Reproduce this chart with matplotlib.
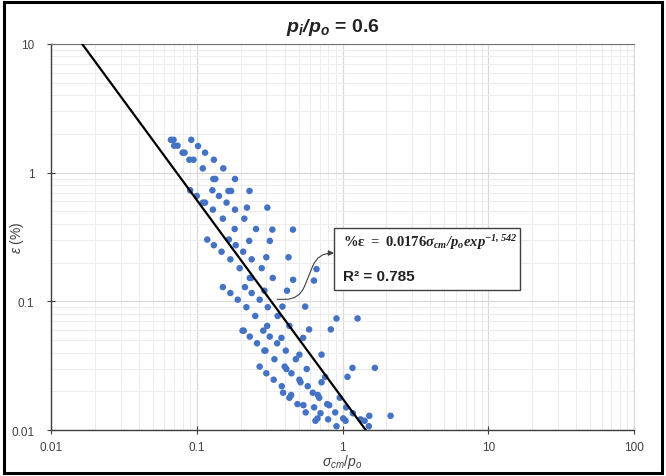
import numpy as np
import matplotlib.pyplot as plt
from matplotlib.patches import Rectangle

# sigma_cm / p_o values
x_vals = [0.0665, 0.0693, 0.0917, 0.070, 0.0738, 0.102, 0.080, 0.0825, 0.114, 0.089,
          0.095, 0.131, 0.110, 0.152, 0.130, 0.134, 0.183, 0.090, 0.128, 0.165,
          0.172, 0.230, 0.100, 0.142, 0.110, 0.114, 0.160, 0.129, 0.183, 0.221,
          0.305, 0.151, 0.212, 0.182, 0.255, 0.330, 0.457, 0.118, 0.166, 0.229,
          0.317, 0.131, 0.185, 0.148, 0.208, 0.170, 0.238, 0.300, 0.426, 0.197,
          0.279, 0.663, 0.231, 0.236, 0.332, 0.458, 0.637, 0.151, 0.214, 0.291,
          0.416, 0.170, 0.238, 0.191, 0.270, 0.387, 0.554, 0.219, 0.307, 0.252,
          0.359, 0.909, 1.268, 0.206, 0.210, 0.286, 0.304, 0.432, 0.590, 0.831,
          0.231, 0.317, 0.381, 0.537, 0.259, 0.356, 0.291, 0.296, 0.408, 0.506,
          0.718, 0.341, 0.478, 0.270, 0.401, 0.412, 0.568, 1.171, 1.667, 0.300,
          0.446, 0.760, 1.082, 0.337, 0.506, 0.515, 0.718, 0.383, 0.577, 0.391,
          0.625, 0.444, 0.432, 0.677, 0.692, 0.958, 0.491, 0.539, 0.639, 0.785,
          0.810, 1.060, 0.559, 0.706, 0.891, 1.177, 0.673, 0.652, 0.797, 1.011,
          1.049, 1.329, 1.417, 1.527, 2.137, 0.909, 1.516]

# strain (%) values
y_vals = [1.80, 1.80, 1.80, 1.62, 1.62, 1.61, 1.43, 1.43, 1.43, 1.26,
          1.26, 1.26, 1.08, 1.08, 0.893, 0.893, 0.893, 0.730, 0.730, 0.721,
          0.721, 0.721, 0.659, 0.659, 0.585, 0.585, 0.585, 0.516, 0.516, 0.535,
          0.535, 0.439, 0.439, 0.365, 0.365, 0.361, 0.361, 0.302, 0.302, 0.295,
          0.295, 0.273, 0.273, 0.243, 0.243, 0.212, 0.212, 0.220, 0.220, 0.181,
          0.181, 0.178, 0.152, 0.152, 0.152, 0.147, 0.145, 0.129, 0.129, 0.121,
          0.121, 0.116, 0.116, 0.103, 0.103, 0.091, 0.091, 0.090, 0.090, 0.077,
          0.077, 0.0736, 0.0736, 0.0592, 0.0592, 0.0592, 0.0644, 0.0644, 0.0605, 0.0605,
          0.0532, 0.0532, 0.0520, 0.0520, 0.0472, 0.0472, 0.0414, 0.0414, 0.0414, 0.0385,
          0.0385, 0.0355, 0.0355, 0.0311, 0.0311, 0.0298, 0.0298, 0.0304, 0.0304, 0.0276,
          0.0276, 0.0259, 0.0259, 0.0246, 0.0246, 0.0235, 0.0235, 0.0219, 0.0219, 0.0195,
          0.0195, 0.0187, 0.0178, 0.0187, 0.0178, 0.0178, 0.0159, 0.0156, 0.0150, 0.0159,
          0.0156, 0.0150, 0.0137, 0.0135, 0.0137, 0.0135, 0.0123, 0.0118, 0.0121, 0.0123,
          0.0118, 0.0121, 0.0118, 0.0129, 0.0129, 0.0107, 0.0107]

# power-law fit: eps = a * x^b
fit_a = 0.0176
fit_b = -1.542
fit_x = np.logspace(-2, 2, 400)
fit_y = fit_a * fit_x ** fit_b

plt.rcParams['font.family'] = 'Liberation Sans'
plt.rcParams['mathtext.fontset'] = 'custom'
plt.rcParams['mathtext.rm'] = 'Liberation Sans'
plt.rcParams['mathtext.it'] = 'Liberation Sans:italic'
plt.rcParams['mathtext.bfit'] = 'Liberation Sans:bold:italic'
# serif bold pieces for the equation box
plt.rcParams['mathtext.bf'] = 'Liberation Serif:bold'
plt.rcParams['mathtext.sf'] = 'Liberation Serif:bold:italic'

fig = plt.figure(figsize=(6.66, 4.77), dpi=100)
ax = fig.add_axes([0.0766, 0.0964, 0.8754, 0.8093])

ax.set_xscale('log')
ax.set_yscale('log')
ax.set_xlim(0.01, 100)
ax.set_ylim(0.01, 10)

ax.grid(True, which='major', color='#d9d9d9', linewidth=0.9)
ax.grid(True, which='minor', color='#ececec', linewidth=0.7)
ax.set_axisbelow(True)

ax.scatter(x_vals, y_vals, s=22, color='#4472C4', edgecolors='none', zorder=3)
ax.plot(fit_x, fit_y, color='black', linewidth=1.6, zorder=4)

ax.set_xticks([0.01, 0.1, 1, 10, 100])
ax.set_xticklabels(['0.01', '0.1', '1', '10', '100'])
ax.set_yticks([0.01, 0.1, 1, 10])
ax.set_yticklabels(['0.01', '0.1', '1', '10'])
ax.tick_params(which='major', direction='inout', length=6, width=0.8,
               color='#404040', labelsize=8.5, labelcolor='#404040')
ax.tick_params(axis='y', pad=9)
ax.tick_params(axis='x', pad=5)
ax.tick_params(which='minor', length=0)

for side in ['left', 'bottom']:
    ax.spines[side].set_color('#404040')
    ax.spines[side].set_linewidth(1.0)
ax.spines['top'].set_color('#707070')
ax.spines['right'].set_color('#d9d9d9')

ax.set_xlabel(r'$\sigma_{cm}/p_o$', fontsize=10, color='#404040')
ax.set_ylabel(r'$\varepsilon$ (%)', fontsize=10, color='#404040')
ax.xaxis.set_label_coords(0.5, -0.058)
ax.yaxis.set_label_coords(-0.043, 0.5)

fig.suptitle(r'$\mathbfit{p_i/p_o}$ = 0.6', y=0.965, fontsize=14,
             fontweight='bold', color='#222222')

# equation box with curved arrow
box = Rectangle((0.4854, 0.3627), 0.3191, 0.1606, transform=ax.transAxes,
                facecolor='white', edgecolor='#404040', linewidth=1.0, zorder=5)
ax.add_patch(box)
ax.text(0.5, 0.487,
        r'$\mathbf{\%\varepsilon\ =\ 0.0176}\mathsf{\sigma_{cm}/p_o exp^{-1,542}}$',
        transform=ax.transAxes, fontsize=10.5, color='#222222',
        va='center', ha='left', zorder=6)
ax.text(0.5, 0.399, 'R² = 0.785', transform=ax.transAxes,
        fontsize=11, fontweight='bold', color='#222222',
        va='center', ha='left', zorder=6)
ax.annotate('', xy=(0.4854, 0.4585), xycoords='axes fraction',
            xytext=(0.388, 0.3385), textcoords='axes fraction',
            arrowprops=dict(arrowstyle='-|>', color='#404040', lw=0.8,
                            mutation_scale=8, shrinkA=0, shrinkB=0,
                            connectionstyle='arc,angleA=0,angleB=180,armA=22,armB=16,rad=14'),
            zorder=5)

fig.patches.append(Rectangle((0.006, 0.006), 0.988, 0.988, transform=fig.transFigure,
                             fill=False, edgecolor='black', linewidth=2.2))

fig.savefig('out.png', dpi=100)
